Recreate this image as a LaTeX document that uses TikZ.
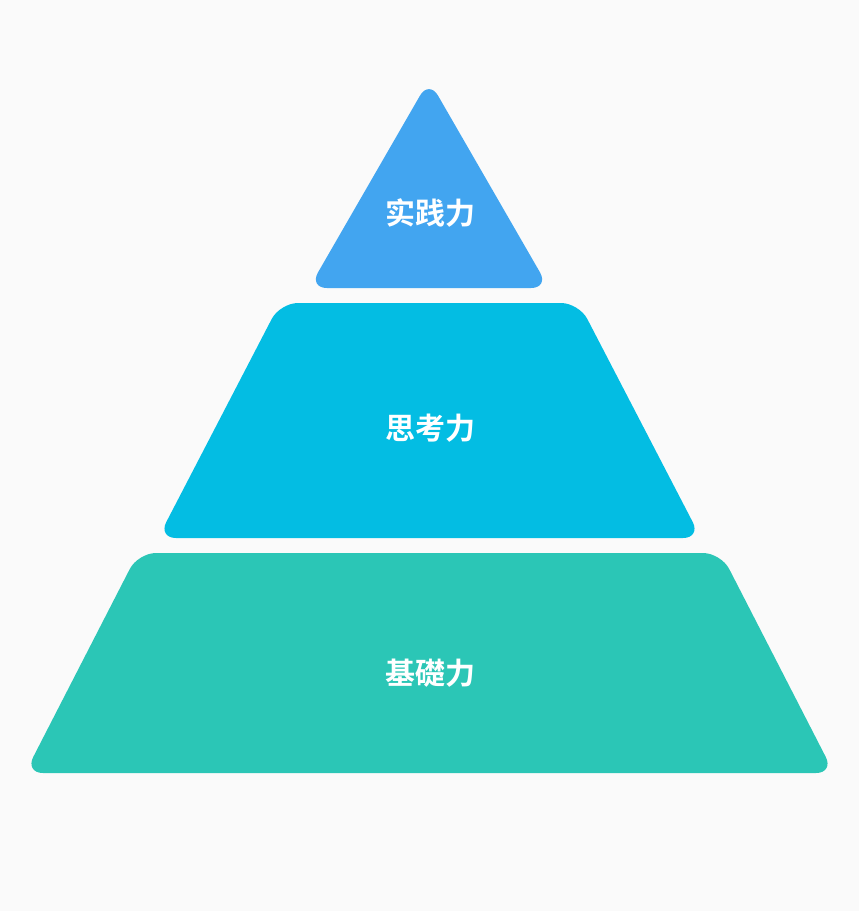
\documentclass[tikz,border=0pt]{standalone}
\usepackage{fontspec}
\newfontfamily\cjk{Noto Sans CJK SC Bold}
\definecolor{bg}{HTML}{FAFAFA}
\definecolor{c1}{HTML}{42A5F0}
\definecolor{c2}{HTML}{03BDE3}
\definecolor{c3}{HTML}{2BC6B6}
\begin{document}
\begin{tikzpicture}[x=1pt,y=-1pt,
  layer/.style={rounded corners=18pt},
  lbl/.style={text=white,font=\cjk\fontsize{30}{33}\selectfont}]
\fill[bg] (0,0) rectangle (859,911);
\useasboundingbox (0,0) rectangle (859,911);
\fill[c1,layer] (429,80) -- (549,288) -- (309,288) -- cycle;
\fill[c2,layer] (280,303) -- (579,303) -- (701,538) -- (158,538) -- cycle;
\fill[c3,layer] (138,553) -- (721,553) -- (834,773) -- (25,773) -- cycle;
\node[lbl] (a) at (430,213) {实践力};
\node[lbl] (b) at (430,428) {思考力};
\node[lbl] (c) at (430,673) {基礎力};
\end{tikzpicture}
\end{document}
